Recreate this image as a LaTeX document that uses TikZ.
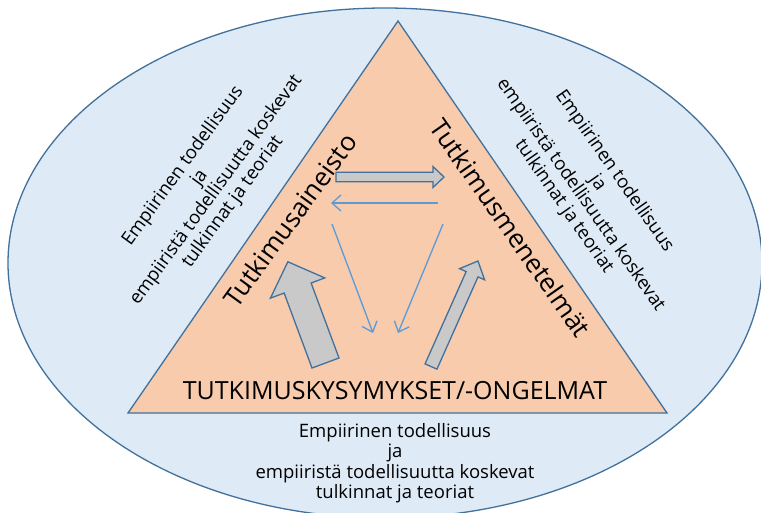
\documentclass[tikz,border=0pt]{standalone}
\usepackage{fontspec}
\setmainfont{Open Sans}
\usetikzlibrary{arrows.meta}
\definecolor{ellfill}{HTML}{DEEAF6}
\definecolor{edge}{HTML}{41719C}
\definecolor{trifill}{HTML}{F8CBAD}
\definecolor{arrgray}{HTML}{C9C9C9}
\definecolor{thinblue}{HTML}{5B9BD5}
\begin{document}
\begin{tikzpicture}[x=1pt,y=-1pt,
  outline/.style={draw=edge,line width=1.3pt},
  blockarrow/.style={draw=edge,line width=1.3pt,fill=arrgray,line join=miter},
  thinarrow/.style={draw=thinblue,line width=1.3pt,-{Straight Barb[length=9pt,width=16pt,line width=1.3pt]}},
  sidetext/.style={align=center,font=\fontsize{18.5}{20.5}\selectfont,inner sep=0pt},
  bigtext/.style={font=\fontsize{26}{30}\selectfont,inner sep=0pt}]
\useasboundingbox (0,0) rectangle (761,512);
\fill[white] (0,0) rectangle (761,512);
% ellipse
\draw[outline,fill=ellfill] (385,263) ellipse [x radius=377, y radius=255];
% triangle
\coordinate (apex) at (398,21);
\coordinate (bl) at (128,413);
\coordinate (br) at (667,413);
\draw[outline,fill=trifill,line join=miter] (apex) -- (bl) -- (br) -- cycle;
% texts
\node[bigtext,rotate=54] (aineisto) at (290,220) {Tutkimusaineisto};
\node[bigtext,rotate=-55] (menetelmat) at (511,228) {Tutkimusmenetelmät};
\node[inner sep=0pt,font=\fontsize{25}{28}\selectfont] (kysymykset) at (395,391) {TUTKIMUSKYSYMYKSET/-ONGELMAT};
\node[sidetext] (bottom) at (395,463) {Empiirinen todellisuus\\ja\\empiiristä todellisuutta koskevat\\tulkinnat ja teoriat};
\node[sidetext,rotate=54] (lefttext) at (208,184) {Empiirinen todellisuus\\ja\\empiiristä todellisuutta koskevat\\tulkinnat ja teoriat};
\node[sidetext,rotate=-55] (righttext) at (589,189) {Empiirinen todellisuus\\ja\\empiiristä todellisuutta koskevat\\tulkinnat ja teoriat};
% block arrow right (aineisto -> menetelmat)
\begin{scope}[shift={(336,177)}]
\draw[blockarrow] (0,-4.8) -- (97,-4.8) -- (97,-10.5) -- (108,0) -- (97,10.5) -- (97,4.8) -- (0,4.8) -- cycle;
\end{scope}
% big block arrow
\begin{scope}[shift={(325.5,363)},rotate=110.4]
\draw[blockarrow] (0,-14.4) -- (80,-14.4) -- (80,-29) -- (108,0) -- (80,29) -- (80,14.4) -- (0,14.4) -- cycle;
\end{scope}
% small block arrow
\begin{scope}[shift={(431,366.5)},rotate=66]
\draw[blockarrow] (0,-6.5) -- (101,-6.5) -- (101,-13.7) -- (115.5,0) -- (101,13.7) -- (101,6.5) -- (0,6.5) -- cycle;
\end{scope}
% thin arrows
\coordinate (t1s) at (438,203); \coordinate (t1e) at (331,203);
\coordinate (t2s) at (332,224); \coordinate (t2e) at (373,333);
\coordinate (t3s) at (443,224); \coordinate (t3e) at (398,333);
\draw[thinarrow] (t1s) -- (t1e);
\draw[thinarrow] (t2s) -- (t2e);
\draw[thinarrow] (t3s) -- (t3e);
\end{tikzpicture}
\end{document}
